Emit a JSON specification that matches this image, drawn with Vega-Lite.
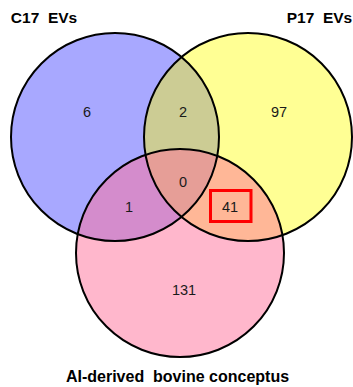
{
  "$schema": "https://vega.github.io/schema/vega-lite/v6.json",
  "width": 353,
  "height": 387,
  "padding": 0,
  "autosize": {"type": "none"},
  "background": "white",
  "config": {"view": {"stroke": null}},
  "datasets": {
    "sets": [
      {"set": "C17 EVs", "cx": 115, "cy": 137},
      {"set": "P17 EVs", "cx": 248, "cy": 137},
      {"set": "AI-derived bovine conceptus", "cx": 180, "cy": 253}
    ],
    "regions": [
      {"region": "C17 only", "count": 6, "lx": 87, "ly": 113},
      {"region": "C17 & P17", "count": 2, "lx": 183, "ly": 113},
      {"region": "P17 only", "count": 97, "lx": 279, "ly": 113},
      {"region": "all three", "count": 0, "lx": 183, "ly": 183},
      {"region": "C17 & conceptus", "count": 1, "lx": 129, "ly": 208},
      {"region": "P17 & conceptus", "count": 41, "lx": 230, "ly": 208},
      {"region": "conceptus only", "count": 131, "lx": 184, "ly": 291}
    ],
    "titles": [
      {"name": "C17\u00a0\u00a0EVs", "tx": 44, "ty": 22.5, "size": "top"},
      {"name": "P17\u00a0\u00a0EVs", "tx": 319.5, "ty": 22.5, "size": "top"},
      {"name": "AI-derived\u00a0\u00a0bovine conceptus", "tx": 177.5, "ty": 382, "size": "bottom"}
    ],
    "highlight": [
      {"region": "P17 & conceptus", "x0": 210.5, "x1": 251, "y0": 190.5, "y1": 221.5}
    ]
  },
  "layer": [
    {
      "data": {"name": "sets"},
      "mark": {"type": "point", "shape": "circle", "filled": true, "strokeWidth": 0},
      "encoding": {
        "x": {"field": "cx", "type": "quantitative", "scale": {"domain": [0, 353], "nice": false, "zero": false}, "axis": null},
        "y": {"field": "cy", "type": "quantitative", "scale": {"domain": [0, 387], "nice": false, "zero": false, "reverse": true}, "axis": null},
        "size": {"value": 43264},
        "color": {
          "field": "set", "type": "nominal", "legend": null,
          "scale": {"domain": ["C17 EVs", "P17 EVs", "AI-derived bovine conceptus"], "range": ["#0000ff", "#ffff00", "#ff6f99"]}
        },
        "opacity": {
          "field": "set", "type": "ordinal", "legend": null,
          "scale": {"domain": ["C17 EVs", "P17 EVs", "AI-derived bovine conceptus"], "range": [0.34, 0.5, 0.5]}
        }
      }
    },
    {
      "data": {"name": "sets"},
      "mark": {"type": "point", "shape": "circle", "filled": false, "stroke": "black", "strokeWidth": 2, "opacity": 1},
      "encoding": {
        "x": {"field": "cx", "type": "quantitative", "scale": {"domain": [0, 353], "nice": false, "zero": false}, "axis": null},
        "y": {"field": "cy", "type": "quantitative", "scale": {"domain": [0, 387], "nice": false, "zero": false, "reverse": true}, "axis": null},
        "size": {"value": 43264}
      }
    },
    {
      "data": {"name": "highlight"},
      "mark": {"type": "rect", "fill": null, "stroke": "#ff0000", "strokeWidth": 3},
      "encoding": {
        "x": {"field": "x0", "type": "quantitative", "scale": {"domain": [0, 353], "nice": false, "zero": false}, "axis": null},
        "x2": {"field": "x1"},
        "y": {"field": "y0", "type": "quantitative", "scale": {"domain": [0, 387], "nice": false, "zero": false, "reverse": true}, "axis": null},
        "y2": {"field": "y1"}
      }
    },
    {
      "data": {"name": "regions"},
      "mark": {"type": "text", "font": "Liberation Sans", "fontSize": 14.5, "color": "#1a1a1a", "baseline": "middle", "align": "center"},
      "encoding": {
        "x": {"field": "lx", "type": "quantitative", "scale": {"domain": [0, 353], "nice": false, "zero": false}, "axis": null},
        "y": {"field": "ly", "type": "quantitative", "scale": {"domain": [0, 387], "nice": false, "zero": false, "reverse": true}, "axis": null},
        "text": {"field": "count", "type": "quantitative"}
      }
    },
    {
      "data": {"name": "titles"},
      "mark": {"type": "text", "font": "Liberation Sans", "fontWeight": "bold", "color": "black", "baseline": "alphabetic", "align": "center"},
      "encoding": {
        "x": {"field": "tx", "type": "quantitative", "scale": {"domain": [0, 353], "nice": false, "zero": false}, "axis": null},
        "y": {"field": "ty", "type": "quantitative", "scale": {"domain": [0, 387], "nice": false, "zero": false, "reverse": true}, "axis": null},
        "text": {"field": "name", "type": "nominal"},
        "size": {
          "field": "size", "type": "nominal", "legend": null,
          "scale": {"domain": ["top", "bottom"], "range": [15.5, 16]}
        }
      }
    }
  ]
}
